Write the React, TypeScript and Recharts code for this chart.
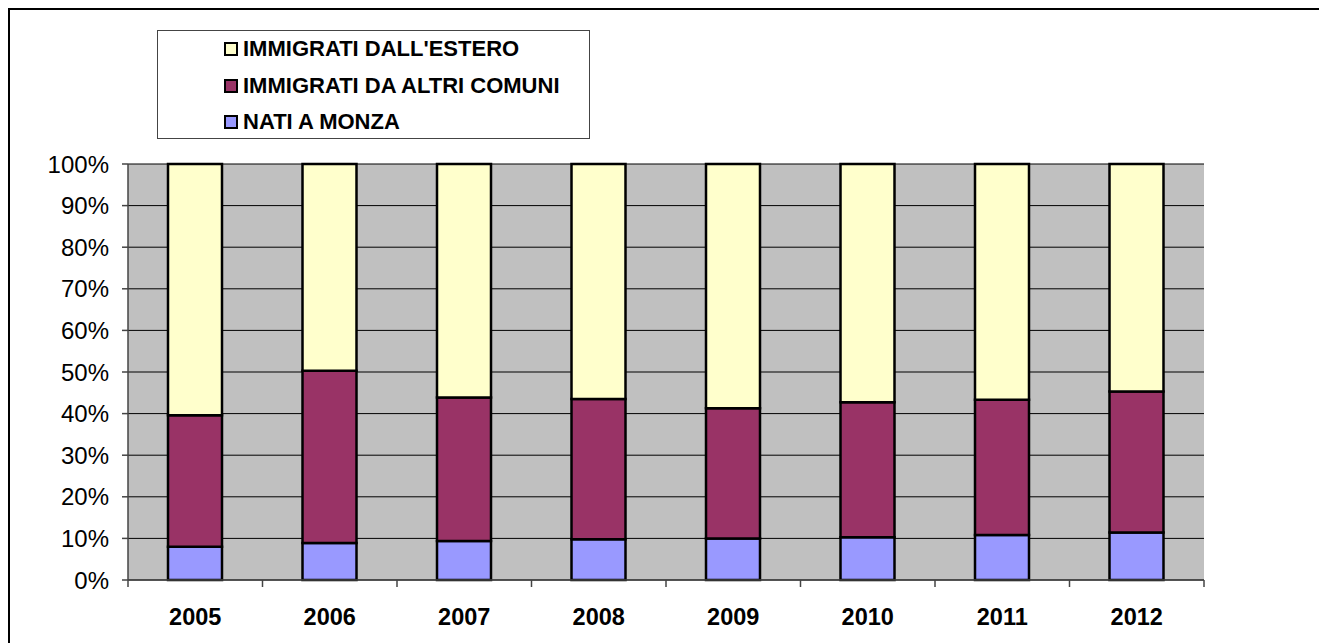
import React from "react";
import {
  BarChart,
  Bar,
  XAxis,
  YAxis,
  CartesianGrid,
  Legend,
} from "recharts";

const years = ["2005", "2006", "2007", "2008", "2009", "2010", "2011", "2012"];
const natiMonza = [8.0, 8.9, 9.4, 9.8, 10.0, 10.3, 10.8, 11.4];
const altriComuni = [31.6, 41.4, 34.5, 33.7, 31.3, 32.4, 32.5, 33.9];
const estero = [60.4, 49.7, 56.1, 56.5, 58.7, 57.3, 56.7, 54.7];
const yTicks = [0, 10, 20, 30, 40, 50, 60, 70, 80, 90, 100];

const series = [
  { key: "estero", name: "IMMIGRATI DALL'ESTERO", color: "#FFFFCC" },
  { key: "altri", name: "IMMIGRATI DA ALTRI COMUNI", color: "#993366" },
  { key: "nati", name: "NATI A MONZA", color: "#9999FF" },
];

const data = years.map((y, i) => ({
  year: y,
  nati: natiMonza[i],
  altri: altriComuni[i],
  estero: estero[i],
}));

const FONT = "Arial, 'Liberation Sans', sans-serif";

const YearTick = (props: any) => {
  const { x, y, payload, index, visibleTicksCount } = props;
  const off = payload && payload.offset ? payload.offset : 0;
  const last = index === visibleTicksCount - 1;
  return (
    <g>
      <line x1={x - off} y1={y} x2={x - off} y2={y + 7} stroke="#444" strokeWidth={1.5} />
      {last && (
        <line x1={x + off} y1={y} x2={x + off} y2={y + 7} stroke="#444" strokeWidth={1.5} />
      )}
      <text
        x={x}
        y={y + 45}
        textAnchor="middle"
        fontFamily={FONT}
        fontWeight="bold"
        fontSize={23.5}
        fill="#000"
      >
        {payload.value}
      </text>
    </g>
  );
};

const LegendBox = () => (
  <div
    style={{
      width: 433,
      height: 109,
      border: "1px solid #444",
      background: "#fff",
      boxSizing: "border-box",
      paddingLeft: 66,
      paddingTop: 0,
      fontFamily: FONT,
      fontWeight: "bold",
      fontSize: 22,
      textAlign: "left",
    }}
  >
    {series.map((s) => (
      <div
        key={s.key}
        style={{ display: "flex", alignItems: "center", height: 36.5 }}
      >
        <span
          style={{
            display: "inline-block",
            width: 10,
            height: 10,
            background: s.color,
            border: "2px solid #000",
            marginRight: 5,
          }}
        />
        <span>{s.name}</span>
      </div>
    ))}
  </div>
);

export default function App() {
  return (
    <div style={{ position: "relative", width: 1319, height: 635 }}>
      <div
        style={{
          position: "absolute",
          left: 0,
          top: 0,
          width: 1319,
          height: 635,
          borderTop: "2px solid #000",
          borderLeft: "2px solid #000",
          boxSizing: "border-box",
        }}
      />
      <div style={{ position: "absolute", left: 0, top: 0 }}>
        <BarChart
          width={1319}
          height={635}
          data={data}
          margin={{ top: 156, right: 123, bottom: 13, left: 0 }}
        >
          <CartesianGrid
            vertical={false}
            fill="#C0C0C0"
            stroke="#000"
            strokeWidth={1}
          />
          <XAxis
            dataKey="year"
            tickSize={0}
            tickMargin={0}
            height={50}
            tick={<YearTick />}
            axisLine={{ stroke: "#444", strokeWidth: 1.5 }}
            tickLine={false}
            interval={0}
          />
          <XAxis
            xAxisId="top"
            dataKey="year"
            orientation="top"
            height={0}
            tick={false}
            tickLine={false}
            axisLine={{ stroke: "#808080", strokeWidth: 2 }}
          />
          <YAxis
            domain={[0, 100]}
            ticks={yTicks}
            width={120}
            tickSize={6}
            tickMargin={13}
            tickFormatter={(v: number) => `${v}%`}
            tick={{ fill: "#000", fontSize: 24, fontFamily: FONT }}
            axisLine={{ stroke: "#444", strokeWidth: 1.5 }}
            tickLine={{ stroke: "#444", strokeWidth: 1.5 }}
          />
          <YAxis
            yAxisId="right"
            orientation="right"
            domain={[0, 100]}
            width={0}
            tick={false}
            tickLine={false}
            axisLine={{ stroke: "#808080", strokeWidth: 2 }}
          />
          <Legend
            layout="vertical"
            align="center"
            verticalAlign="middle"
            content={<LegendBox />}
            wrapperStyle={{ left: 149, top: 22, width: 433, height: 109 }}
          />
          <Bar dataKey="nati" stackId="a" barSize={54} fill="#9999FF" stroke="#000" strokeWidth={2.5} isAnimationActive={false} />
          <Bar dataKey="altri" stackId="a" barSize={54} fill="#993366" stroke="#000" strokeWidth={2.5} isAnimationActive={false} />
          <Bar dataKey="estero" stackId="a" barSize={54} fill="#FFFFCC" stroke="#000" strokeWidth={2.5} isAnimationActive={false} />
        </BarChart>
      </div>
    </div>
  );
}
